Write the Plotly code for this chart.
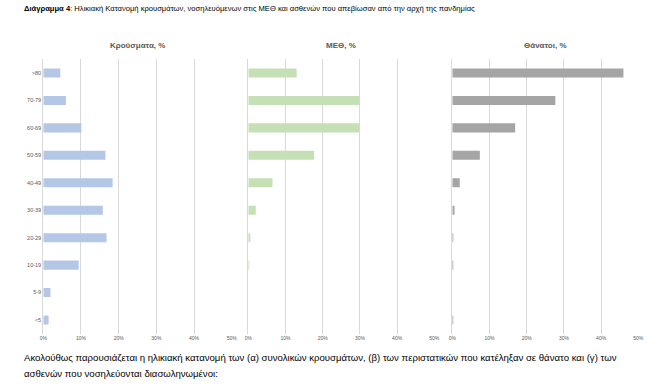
import plotly.graph_objects as go

age_groups = ["<5", "5-9", "10-19", "20-29", "30-39", "40-49", "50-59", "60-69", "70-79", ">80"]
cases_pct = [1.4, 1.9, 9.4, 16.8, 15.8, 18.4, 16.5, 10.1, 6.0, 4.5]
icu_pct = [0.0, 0.0, 0.2, 0.5, 2.0, 6.5, 17.7, 29.8, 29.9, 13.0]
deaths_pct = [0.05, 0.0, 0.05, 0.1, 0.6, 2.0, 7.4, 16.9, 27.7, 46.0]
panel_titles = ["Κρούσματα, %", "ΜΕΘ, %", "Θάνατοι, %"]
x_ticks = [0, 10, 20, 30, 40, 50]
x_tick_labels = ["0%", "10%", "20%", "30%", "40%", "50%"]

W, H = 658, 392
FONT = "Liberation Sans, Arial, sans-serif"

series = [cases_pct, icu_pct, deaths_pct]
colors = ["#b4c7e7", "#c5e0b4", "#a5a5a5"]
x_domains = [(43.3 / W, 231.7 / W), (248.3 / W, 434.3 / W), (452.3 / W, 638.3 / W)]
y_domain = (1 - 333.7 / H, 1 - 59.3 / H)

fig = go.Figure()
for i, (vals, col) in enumerate(zip(series, colors)):
    sfx = "" if i == 0 else str(i + 1)
    fig.add_trace(go.Bar(
        x=vals, y=age_groups, orientation="h",
        marker=dict(color=col, line=dict(width=0)),
        xaxis="x" + sfx, yaxis="y" + sfx, showlegend=False,
    ))
    fig.layout["xaxis" + sfx] = dict(
        domain=x_domains[i], range=[0, 50], tickvals=x_ticks, ticktext=x_tick_labels,
        showgrid=True, gridcolor="#d9d9d9", gridwidth=1, zeroline=False,
        showline=False, ticks="", tickfont=dict(size=5, color="#595959", family=FONT),
        anchor="y" + sfx, fixedrange=True, automargin=False,
    )
    fig.layout["yaxis" + sfx] = dict(
        domain=y_domain, type="category", categoryorder="array", categoryarray=age_groups,
        showgrid=False, zeroline=False, showline=True, linecolor="#d9d9d9", linewidth=1,
        ticks="", showticklabels=(i == 0),
        tickfont=dict(size=5.5, color="#595959", family=FONT),
        anchor="x" + sfx, fixedrange=True, automargin=False,
    )
    fig.add_annotation(
        x=(x_domains[i][0] + x_domains[i][1]) / 2, y=1 - 46 / H, xref="paper", yref="paper",
        text="<b>" + panel_titles[i] + "</b>", showarrow=False,
        font=dict(size=8, color="#595959", family=FONT), xanchor="center", yanchor="middle",
    )

fig.add_annotation(
    x=22 / W, y=1 - 8 / H, xref="paper", yref="paper", xanchor="left", yanchor="middle",
    text="<b>Διάγραμμα 4</b>: Ηλικιακή Κατανομή κρουσμάτων, νοσηλευόμενων στις ΜΕΘ και ασθενών που απεβίωσαν από την αρχή της πανδημίας",
    showarrow=False, font=dict(size=7.6, color="#000000", family=FONT),
)
fig.add_annotation(
    x=22 / W, y=1 - 357 / H, xref="paper", yref="paper", xanchor="left", yanchor="middle",
    text="Ακολούθως παρουσιάζεται η ηλικιακή κατανομή των (α) συνολικών κρουσμάτων, (β) των περιστατικών που κατέληξαν σε θάνατο και (γ) των",
    showarrow=False, font=dict(size=9.6, color="#000000", family=FONT),
)
fig.add_annotation(
    x=22 / W, y=1 - 373 / H, xref="paper", yref="paper", xanchor="left", yanchor="middle",
    text="ασθενών που νοσηλεύονται διασωληνωμένοι:",
    showarrow=False, font=dict(size=9.6, color="#000000", family=FONT),
)

fig.update_layout(
    width=W, height=H, margin=dict(l=0, r=0, t=0, b=0, autoexpand=False),
    paper_bgcolor="white", plot_bgcolor="white", bargap=0.67,
    font=dict(family=FONT),
)
fig.write_html(
    "out.html",
    config={"displayModeBar": False},
    post_script="document.body.style.margin='0';document.body.style.overflow='hidden';",
)
